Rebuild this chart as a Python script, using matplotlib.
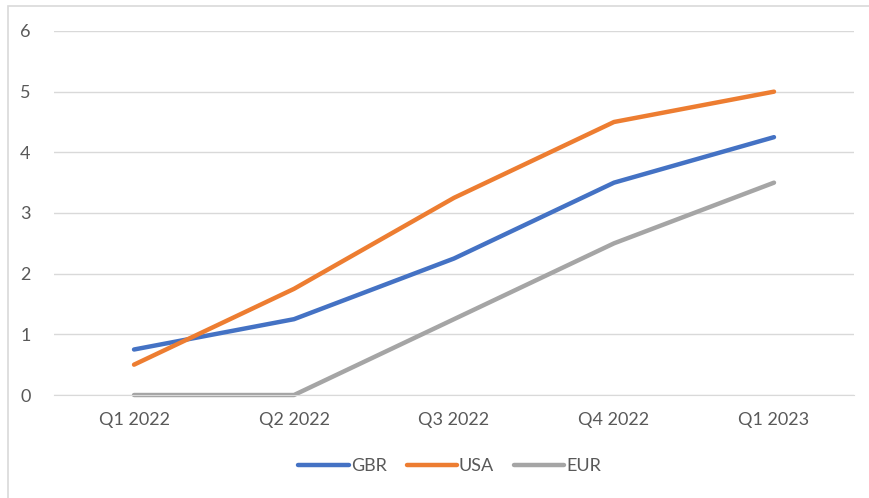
import matplotlib.pyplot as plt
from matplotlib.patches import Rectangle

quarters = ["Q1 2022", "Q2 2022", "Q3 2022", "Q4 2022", "Q1 2023"]
gbr = [0.75, 1.25, 2.25, 3.5, 4.25]
usa = [0.5, 1.75, 3.25, 4.5, 5.0]
eur = [0, 0, 1.25, 2.5, 3.5]

text_col = "#595959"
grid_col = "#D9D9D9"

plt.rcParams["font.family"] = ["Lato", "DejaVu Sans"]

fig = plt.figure(figsize=(8.7, 4.98), dpi=100)
ax = fig.add_axes([0.0621, 0.2068, 0.9195, 0.731])

x = range(len(quarters))
style = dict(lw=3.2, solid_capstyle="round", solid_joinstyle="round", clip_on=False)
ax.plot(x, gbr, color="#4472C4", label="GBR", **style)
ax.plot(x, usa, color="#ED7D31", label="USA", **style)
ax.plot(x, eur, color="#A5A5A5", label="EUR", **style)

ax.set_xlim(-0.5, 4.5)
ax.set_ylim(0, 6)
ax.set_yticks(range(0, 7))
ax.set_xticks(list(x))
ax.set_xticklabels(quarters)

ax.grid(axis="y", color=grid_col, lw=1)
ax.set_axisbelow(True)
for side in ["top", "right", "left"]:
    ax.spines[side].set_visible(False)
ax.spines["bottom"].set_color(grid_col)
ax.tick_params(axis="both", length=0, colors=text_col, labelsize=13)
ax.tick_params(axis="y", pad=17)
ax.tick_params(axis="x", pad=12)

fig.legend(loc="center", bbox_to_anchor=(0.517, 0.064), ncol=3, frameon=False,
           fontsize=13, labelcolor=text_col, handlelength=2.8, handletextpad=0.1,
           columnspacing=1.1)

# light frame round the chart area
fig.add_artist(Rectangle((8 / 870, -0.1), 1.2, 1 - 6 / 498 + 0.1, transform=fig.transFigure,
                         fill=False, edgecolor=grid_col, lw=1.2))

fig.savefig("out.png", dpi=100)
